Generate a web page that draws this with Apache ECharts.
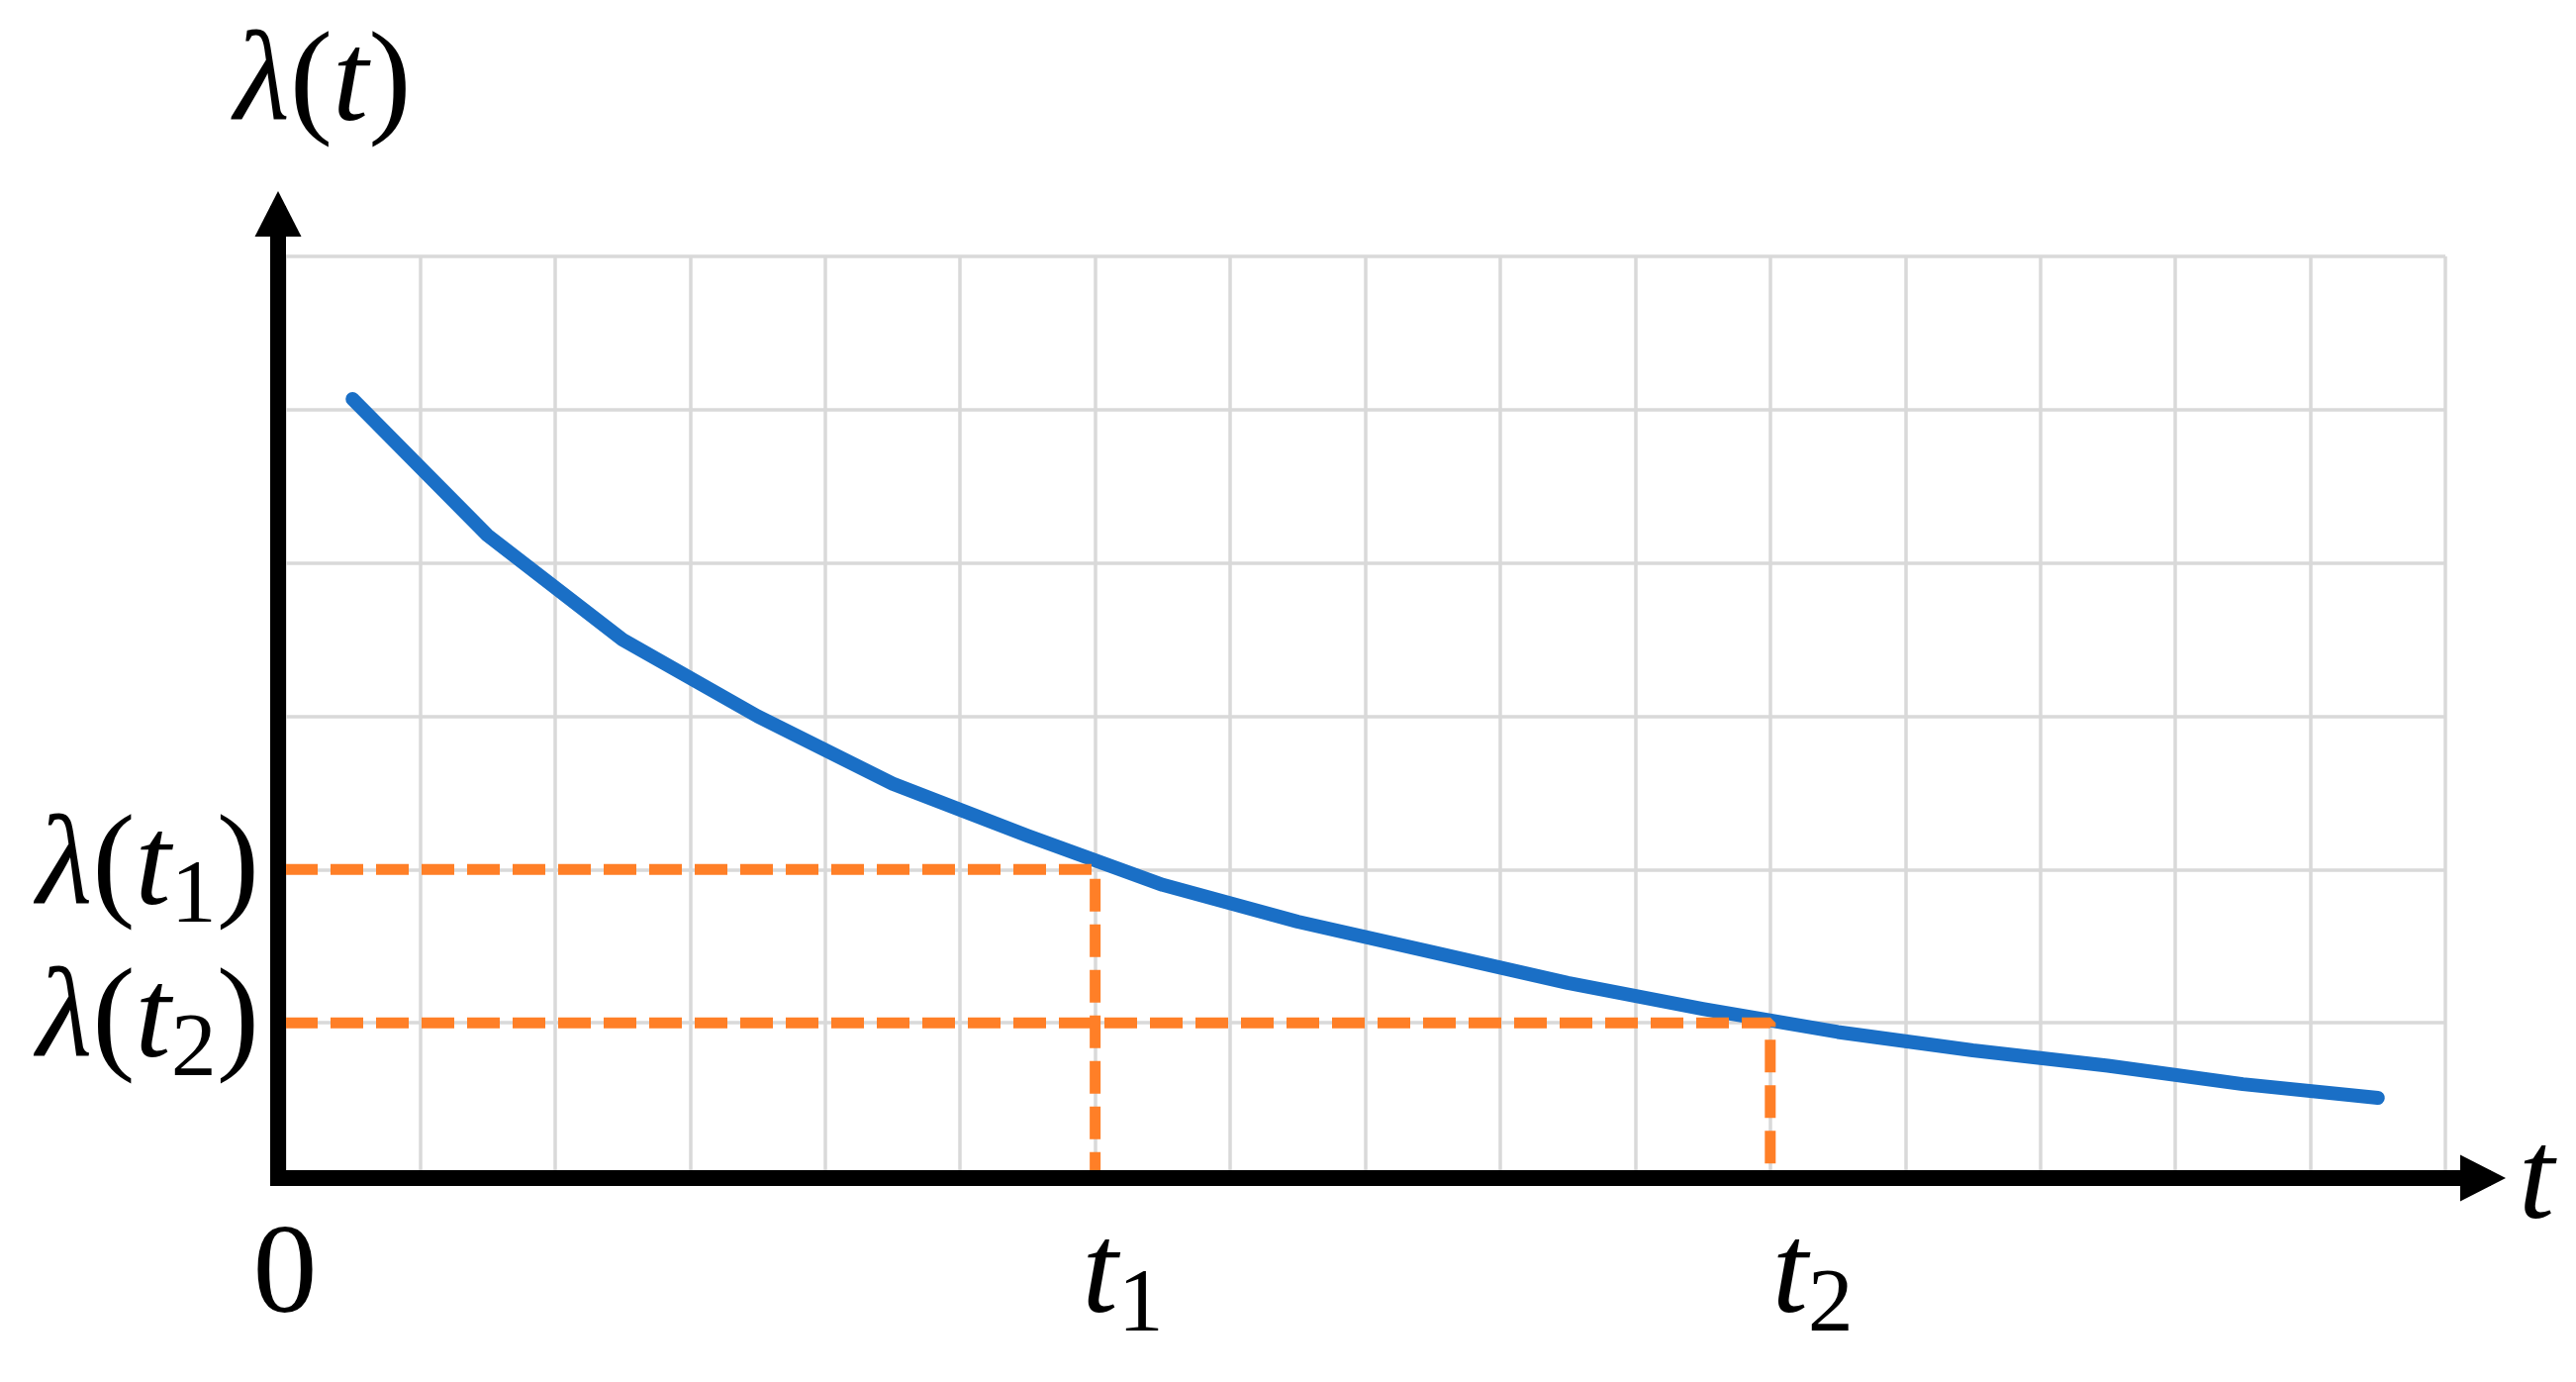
<!DOCTYPE html>
<html>
<head>
<meta charset="utf-8">
<script src="https://cdn.jsdelivr.net/npm/echarts@6/dist/echarts.min.js"></script>
<style>
  html, body { margin: 0; padding: 0; background: #fff; }
  #main { width: 2603px; height: 1396px; }
</style>
</head>
<body>
<div id="main"></div>
<script>
// failure rate curve, points sit in the middle of each grid cell
var tValues = [0.5, 1.5, 2.5, 3.5, 4.5, 5.5, 6.5, 7.5, 8.5, 9.5, 10.5, 11.5, 12.5, 13.5, 14.5, 15.5];
var lambdaValues = [5.07, 4.18, 3.50, 3.00, 2.56, 2.22, 1.90, 1.66, 1.46, 1.26, 1.09, 0.94, 0.82, 0.72, 0.60, 0.51];

// the two marked instants and their rate
var markT = [6, 11];
var markLambda = [2, 1];

// tick labels ('|' starts a subscript)
var xLabelValues = [0, 6, 11];
var xLabelTexts = ['0', 't|1', 't|2'];
var yLabelValues = [2, 1];
var yLabelTexts = ['λ(t|1)', 'λ(t|2)'];

var FONT = 'Liberation Serif';
var mathRich = {
  it: { fontFamily: FONT, fontStyle: 'italic', fontSize: 130, lineHeight: 150, color: '#000' },
  up: { fontFamily: FONT, fontSize: 130, lineHeight: 150, color: '#000' },
  sub: { fontFamily: FONT, fontSize: 92, lineHeight: 80, verticalAlign: 'bottom', color: '#000' },
  g1: { width: 56 },
  g2: { width: 86 }
};

// 'λ(t|1)' -> rich text, the part after | is a subscript
function toRich(s) {
  var out = '';
  var parts = s.split('|');
  var main = parts[0];
  for (var i = 0; i < main.length; i++) {
    var c = main[i];
    if (c === '(' || c === ')' || /[0-9]/.test(c)) out += '{up|' + c + '}';
    else out += '{it|' + c + '}';
  }
  if (parts.length > 1) {
    var rest = parts[1];
    out += '{sub|' + rest.replace(')', '') + '}';
    if (rest.indexOf(')') >= 0) out += '{up|)}';
  }
  return out;
}

var chart = echarts.init(document.getElementById('main'));

var series = [{
  type: 'line',
  xAxisIndex: 0,
  yAxisIndex: 0,
  data: tValues.map(function (t, i) { return [t, lambdaValues[i]]; }),
  symbol: 'none',
  lineStyle: { color: '#1a6fc6', width: 14, cap: 'round', join: 'round' },
  z: 3
}];
for (var i = 0; i < markT.length; i++) {
  series.push({
    type: 'line',
    xAxisIndex: 0,
    yAxisIndex: 0,
    data: [[0, markLambda[i]], [markT[i], markLambda[i]], [markT[i], 0]],
    symbol: 'none',
    lineStyle: { color: '#ff7f27', width: 11, type: [33, 13] },
    z: 4
  });
}

var option = {
  animation: false,
  grid: [
    { left: 288, right: 132, top: 259, bottom: 208 },
    { left: 281, right: 94, top: 216, bottom: 206 }
  ],
  xAxis: [{
    gridIndex: 0,
    type: 'value',
    min: 0,
    max: 16,
    interval: 1,
    axisLine: { show: false },
    axisTick: { show: false },
    splitLine: { show: true, lineStyle: { color: '#d9d9d9', width: 3.5 } },
    axisLabel: {
      show: true,
      interval: 0,
      margin: 28,
      formatter: function (v) {
        var k = xLabelValues.indexOf(Math.round(v));
        if (k < 0) return '';
        var gap = k === 0 ? '' : '{g' + k + '|}';
        return gap + toRich(xLabelTexts[k]);
      },
      rich: mathRich
    }
  }, {
    gridIndex: 1,
    type: 'value',
    min: 0,
    max: 1,
    z: 10,
    axisLine: {
      show: true,
      onZero: false,
      symbol: ['none', 'triangle'],
      symbolSize: [47, 46],
      lineStyle: { color: '#000', width: 16, cap: 'square' }
    },
    axisTick: { show: false },
    axisLabel: { show: false },
    splitLine: { show: false },
    name: toRich('t'),
    nameLocation: 'end',
    nameGap: 36,
    nameTextStyle: { rich: mathRich, padding: [12, 0, 0, 0] }
  }],
  yAxis: [{
    gridIndex: 0,
    type: 'value',
    min: 0,
    max: 6,
    interval: 1,
    axisLine: { show: false },
    axisTick: { show: false },
    splitLine: { show: true, lineStyle: { color: '#d9d9d9', width: 3.5 } },
    axisLabel: {
      show: true,
      margin: 26,
      formatter: function (v) {
        var k = yLabelValues.indexOf(Math.round(v));
        return k < 0 ? '' : toRich(yLabelTexts[k]);
      },
      rich: mathRich
    }
  }, {
    gridIndex: 1,
    type: 'value',
    min: 0,
    max: 1,
    z: 10,
    axisLine: {
      show: true,
      onZero: false,
      symbol: ['none', 'triangle'],
      symbolSize: [47, 46],
      lineStyle: { color: '#000', width: 16, cap: 'square' }
    },
    axisTick: { show: false },
    axisLabel: { show: false },
    splitLine: { show: false },
    name: toRich('λ(t)'),
    nameLocation: 'end',
    nameGap: 54,
    nameTextStyle: { rich: mathRich, padding: [0, 0, 0, 90] }
  }],
  series: series
};

chart.setOption(option);
</script>
</body>
</html>
